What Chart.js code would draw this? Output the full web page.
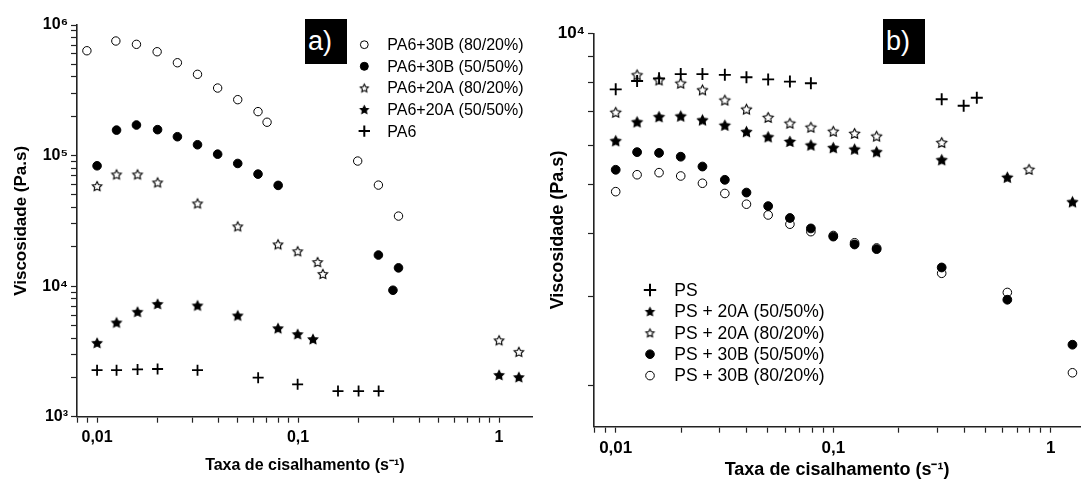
<!DOCTYPE html>
<html><head><meta charset="utf-8">
<script src="https://cdn.jsdelivr.net/npm/chart.js@4.4.0/dist/chart.umd.min.js"></script>
<style>
html,body{margin:0;padding:0;background:#fff;}
#wrap{position:relative;width:1088px;height:481px;overflow:hidden;background:#fff;}
#c1{position:absolute;left:0;top:0;}
#c2{position:absolute;left:540px;top:0;}
.tag{position:absolute;top:19px;width:42px;height:45px;background:#000;color:#fff;font-family:"Liberation Sans",Arial,sans-serif;font-size:27px;line-height:45px;padding-left:3px;box-sizing:border-box;}
</style></head><body>
<div id="wrap">
<canvas id="c1" width="540" height="481"></canvas>
<canvas id="c2" width="548" height="481"></canvas>
<div class="tag" style="left:305px">a)</div>
<div class="tag" style="left:883px">b)</div>
</div>
<script>
// ---------- Panel a) data ----------
const aLabels = ['PA6+30B (80/20%)','PA6+30B (50/50%)','PA6+20A (80/20%)','PA6+20A (50/50%)','PA6'];
const aX_30B_80 = [0.0089,0.0124,0.0157,0.0199,0.0251,0.0316,0.0398,0.0501,0.0632,0.0701,0.198,0.251,0.316];
const aY_30B_80 = [635000,754000,711000,624000,514000,419000,329000,268000,217000,180000,90800,59400,34400];
const aX_30B_50 = [0.01,0.0125,0.0157,0.02,0.0251,0.0316,0.0398,0.0501,0.0632,0.0796,0.251,0.2965,0.316];
const aY_30B_50 = [83500,156700,171400,157900,139400,121000,102500,87000,72100,59100,17300,9300,13800];
const aX_20A_80 = [0.01,0.0125,0.0159,0.02,0.0316,0.0501,0.0795,0.0995,0.1251,0.1328,1.0,1.254];
const aY_20A_80 = [58400,71700,71700,62300,43000,28700,20900,18500,15300,12400,3850,3140];
const aX_20A_50 = [0.01,0.0125,0.0159,0.02,0.0316,0.0501,0.0795,0.0995,0.1186,1.0,1.254];
const aY_20A_50 = [3680,5270,6360,7310,7110,5960,4760,4290,3930,2090,2010];
const aX_PA6 = [0.01,0.0125,0.0159,0.02,0.0316,0.0633,0.0995,0.158,0.2,0.2517];
const aY_PA6 = [2270,2270,2300,2320,2270,1990,1770,1570,1570,1570];

// ---------- Panel b) data ----------
const bLabels = ['PS','PS + 20A (50/50%)','PS + 20A (80/20%)','PS + 30B (50/50%)','PS + 30B (80/20%)'];
const bX_PS = [0.01,0.01254,0.01582,0.0199,0.02504,0.03174,0.0399,0.0502,0.0632,0.0789,0.315,0.3975,0.4568];
const bY_PS = [7740,8040,8140,8300,8300,8270,8180,8100,8020,7960,7400,7180,7450];
const bX_20A_50 = [0.01,0.01254,0.01582,0.0199,0.02504,0.03174,0.0399,0.0502,0.0632,0.0789,0.1,0.1253,0.1582,0.315,0.631,1.257];
const bY_20A_50 = [6120,6670,6830,6850,6730,6570,6380,6230,6100,6000,5930,5890,5820,5610,5180,4630];
const bX_20A_80 = [0.01,0.01254,0.01582,0.0199,0.02504,0.03174,0.0399,0.0502,0.0632,0.0789,0.1,0.1253,0.1582,0.315,0.794];
const bY_20A_80 = [6970,8270,8080,7960,7720,7370,7070,6810,6630,6510,6390,6330,6250,6070,5370];
const bX_30B_50 = [0.01,0.01254,0.01582,0.0199,0.02504,0.03174,0.0399,0.0502,0.0632,0.0789,0.1,0.1253,0.1582,0.315,0.631,1.257];
const bY_30B_50 = [5360,5810,5790,5690,5440,5120,4830,4540,4300,4100,3950,3810,3730,3430,2960,2410];
const bX_30B_80 = [0.01,0.01254,0.01582,0.0199,0.02504,0.03174,0.0399,0.0502,0.0632,0.0789,0.1,0.1253,0.1582,0.315,0.631,1.257];
const bY_30B_80 = [4850,5240,5290,5210,5040,4810,4580,4360,4180,4040,3970,3840,3750,3340,3060,2120];

// ---------- ticks ----------
const xTicks = [0.008,0.009,0.01,0.02,0.03,0.04,0.05,0.06,0.07,0.08,0.09,0.1,0.2,0.3,0.4,0.5,0.6,0.7,0.8,0.9,1];
const xLabelValues = [0.01,0.1,1];
const xLabelTexts = ['0,01','0,1','1'];
const aYTicks = [1000,2000,3000,4000,5000,6000,7000,8000,9000,10000,20000,30000,40000,50000,60000,70000,80000,90000,100000,200000,300000,400000,500000,600000,700000,800000,900000,1000000];
const bYTicks = [2000,3000,4000,5000,6000,7000,8000,9000,10000];
const yLabelValues = [1000,10000,100000,1000000];
const yLabelTexts = ['10\u00B3','10\u2074','10\u2075','10\u2076'];
const xTitle = 'Taxa de cisalhamento (s\u207B\u00B9)';
const yTitle = 'Viscosidade (Pa.s)';

const FONT = '"Liberation Sans", Arial, Helvetica, sans-serif';
Chart.defaults.font.family = FONT;
Chart.defaults.color = '#000';

function pts(xs, ys){ return xs.map((x,i)=>({x:x, y:ys[i]})); }
function findLabel(v, vals, texts){
  for (let i=0;i<vals.length;i++){ if (Math.abs(Math.log10(v/vals[i]))<1e-6) return texts[i]; }
  return '';
}
function makeStar(R, filled){
  const pad = 2, s = Math.ceil(2*R+2*pad);
  const c = document.createElement('canvas'); c.width = s; c.height = s;
  const g = c.getContext('2d'); const cx = s/2, cy = s/2 + 0.5, r = R*0.5;
  g.beginPath();
  for (let i=0;i<10;i++){ const ang = -Math.PI/2 + i*Math.PI/5; const rr = (i%2)? r : R; g.lineTo(cx+rr*Math.cos(ang), cy+rr*Math.sin(ang)); }
  g.closePath();
  g.fillStyle = filled ? '#000' : '#fff'; g.fill();
  g.lineWidth = 1.1; g.strokeStyle = '#000'; g.stroke();
  return c;
}

function xScale(min,max,tickSize,titleSize,titlePadBottom,height){
  return {
    type:'logarithmic', position:'bottom', min:min, max:max,
    afterBuildTicks: s => { s.ticks = xTicks.map(v=>({value:v})); },
    afterFit: s => { s.height = height; },
    border:{display:true,color:'#222',width:1.6},
    grid:{display:true,drawOnChartArea:false,drawTicks:true,tickLength:6,tickColor:'#222',tickWidth:1.2},
    ticks:{autoSkip:false,maxRotation:0,padding:5,color:'#000',font:{size:tickSize,weight:'bold'},
      callback: v => findLabel(v, xLabelValues, xLabelTexts)},
    title:{display:true,text:xTitle,color:'#000',font:{size:titleSize,weight:'bold'},padding:{top:0,bottom:titlePadBottom}}
  };
}
function yScale(min,max,ticks,tickSize,titleSize,titlePadTop,width){
  return {
    type:'logarithmic', position:'left', min:min, max:max,
    afterBuildTicks: s => { s.ticks = ticks.map(v=>({value:v})); },
    afterFit: s => { s.width = width; },
    border:{display:true,color:'#222',width:1.6},
    grid:{display:true,drawOnChartArea:false,drawTicks:true,tickLength:6,tickColor:'#222',tickWidth:1.2},
    ticks:{autoSkip:false,padding:3,color:'#000',font:{size:tickSize,weight:'bold'},
      callback: v => findLabel(v, yLabelValues, yLabelTexts)},
    title:{display:true,text:yTitle,color:'#000',font:{size:titleSize,weight:'bold'},padding:{top:titlePadTop,bottom:0}}
  };
}

function legendPlugin(cfg){
  return { id:'customLegend'+cfg.id, afterDatasetsDraw(chart){
    const ctx = chart.ctx; ctx.save();
    cfg.styles.forEach((st,i)=>{
      const y = cfg.y0 + i*cfg.dy;
      ctx.fillStyle = st.fill; ctx.strokeStyle = '#000'; ctx.lineWidth = st.bw;
      Chart.helpers.drawPoint(ctx, {pointStyle:st.style, radius:st.r, borderWidth:st.bw, rotation:0}, cfg.mx, y);
      ctx.fillStyle = '#000'; ctx.font = cfg.font; ctx.textBaseline = 'middle'; ctx.textAlign = 'left';
      ctx.fillText(chart.data.datasets[i].label, cfg.tx, y + 1);
    });
    ctx.restore();
  }};
}

function ds(label, data, style, r, fill, bw){
  return {label:label, data:data, showLine:false, pointStyle:style, pointRadius:r, pointHoverRadius:r,
    pointBackgroundColor:fill, pointBorderColor:'#000', pointBorderWidth:bw, backgroundColor:fill, borderColor:'#000'};
}

// ---------- Chart a) ----------
const starOpenA = makeStar(5,false), starFillA = makeStar(5,true);
const starOpenAL = makeStar(4.2,false), starFillAL = makeStar(4.2,true);
new Chart(document.getElementById('c1'), {
  type:'scatter',
  data:{datasets:[
    ds(aLabels[0], pts(aX_30B_80,aY_30B_80), 'circle', 4.2, '#fff', 1),
    ds(aLabels[1], pts(aX_30B_50,aY_30B_50), 'circle', 4.3, '#000', 1),
    ds(aLabels[2], pts(aX_20A_80,aY_20A_80), starOpenA, 5, '#fff', 1),
    ds(aLabels[3], pts(aX_20A_50,aY_20A_50), starFillA, 5, '#000', 1),
    ds(aLabels[4], pts(aX_PA6,aY_PA6), 'cross', 5.5, '#000', 1.8)
  ]},
  options:{
    responsive:false, animation:false, devicePixelRatio:1,
    layout:{padding:{left:0,right:2,top:25,bottom:0}},
    plugins:{legend:{display:false},tooltip:{enabled:false}},
    scales:{
      x: xScale(0.007946, 1.47, 16, 16, 6, 64.3),
      y: yScale(1000, 1000000, aYTicks, 16, 17, 11, 77)
    }
  },
  plugins:[legendPlugin({id:'a', mx:364.3, tx:387.3, y0:44.7, dy:21.6, font:'16px '+FONT,
    styles:[{style:'circle',r:3.9,fill:'#fff',bw:1},{style:'circle',r:4,fill:'#000',bw:1},
            {style:starOpenAL,r:4,fill:'#fff',bw:1},{style:starFillAL,r:4,fill:'#000',bw:1},
            {style:'cross',r:5.7,fill:'#000',bw:2}]})]
});

// ---------- Chart b) ----------
const starOpenB = makeStar(5.3,false), starFillB = makeStar(5.3,true);
const starOpenBL = makeStar(4.3,false), starFillBL = makeStar(4.3,true);
new Chart(document.getElementById('c2'), {
  type:'scatter',
  data:{datasets:[
    ds(bLabels[0], pts(bX_PS,bY_PS), 'cross', 6, '#000', 1.9),
    ds(bLabels[1], pts(bX_20A_50,bY_20A_50), starFillB, 5, '#000', 1),
    ds(bLabels[2], pts(bX_20A_80,bY_20A_80), starOpenB, 5, '#fff', 1),
    ds(bLabels[3], pts(bX_30B_50,bY_30B_50), 'circle', 4.4, '#000', 1),
    ds(bLabels[4], pts(bX_30B_80,bY_30B_80), 'circle', 4.3, '#fff', 1)
  ]},
  options:{
    responsive:false, animation:false, devicePixelRatio:1,
    layout:{padding:{left:0,right:1,top:33.3,bottom:0}},
    plugins:{legend:{display:false},tooltip:{enabled:false}},
    scales:{
      x: xScale(0.007947, 1.363, 17, 18, 0.5, 54.3),
      y: yScale(1657, 10000, bYTicks, 17, 18, 7, 54)
    }
  },
  plugins:[legendPlugin({id:'b', mx:110, tx:134.3, y0:290, dy:21.4, font:'17.5px '+FONT,
    styles:[{style:'cross',r:6.2,fill:'#000',bw:2},{style:starFillBL,r:4,fill:'#000',bw:1},
            {style:starOpenBL,r:4,fill:'#fff',bw:1},{style:'circle',r:4.3,fill:'#000',bw:1},
            {style:'circle',r:4.3,fill:'#fff',bw:1}]})]
});
</script>
</body></html>
